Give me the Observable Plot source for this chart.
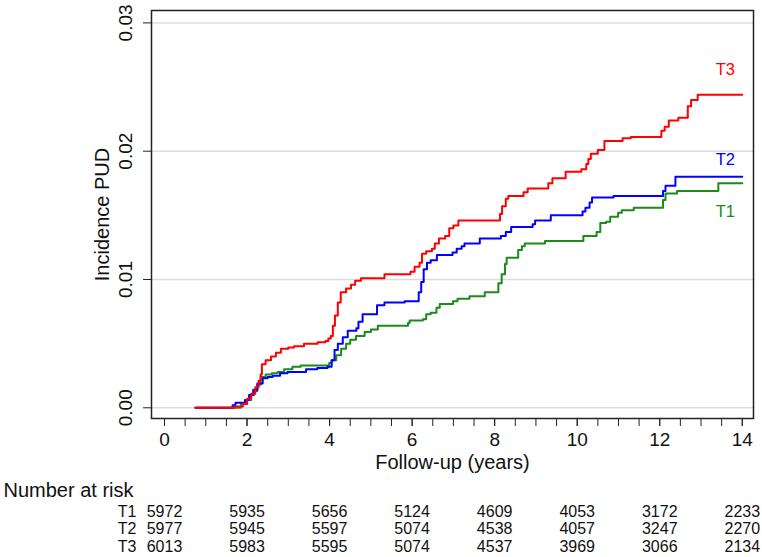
<!DOCTYPE html>
<html>
<head>
<meta charset="utf-8">
<script src="https://cdn.jsdelivr.net/npm/d3@7"></script>
<script src="https://cdn.jsdelivr.net/npm/@observablehq/plot@0.6"></script>
<style>
  html, body { margin: 0; padding: 0; background: #fff; }
</style>
</head>
<body>
<div id="chart"></div>
<script>
// ---- Data ----
const groups = ["T1", "T2", "T3"];
const groupColors = ["#1a8c1a", "#0000ff", "#ff0000"];

const t1Time = [0.75,1.85,2.00,2.10,2.17,2.25,2.33,2.45,2.60,2.74,2.90,3.10,3.30,3.99,4.05,4.16,4.28,4.40,4.50,4.64,4.85,5.00,5.17,5.90,5.94,6.26,6.34,6.45,6.59,6.67,6.99,7.10,7.39,7.76,8.09,8.17,8.25,8.29,8.57,8.66,8.73,9.22,10.15,10.47,10.56,10.70,10.80,10.99,11.08,11.37,12.08,12.14,12.42,13.42,14.00];
const t1Inc  = [0,0.0003,0.0006,0.0010,0.0013,0.0018,0.0024,0.0026,0.0027,0.0028,0.0030,0.0032,0.0033,0.0035,0.0037,0.0041,0.0046,0.0050,0.0053,0.0056,0.0059,0.0061,0.0064,0.0066,0.0068,0.0069,0.0073,0.0074,0.0078,0.0081,0.0083,0.0085,0.0087,0.0090,0.0097,0.0104,0.0112,0.0117,0.0123,0.0126,0.0128,0.0130,0.0134,0.0137,0.0144,0.0145,0.0149,0.0152,0.0154,0.0156,0.0162,0.0167,0.0169,0.0175,0.0175];

const t2Time = [0.75,1.65,1.72,1.95,2.05,2.15,2.25,2.38,2.50,2.62,2.80,2.98,3.43,3.70,3.95,4.05,4.12,4.20,4.32,4.44,4.65,4.70,4.80,5.15,5.33,5.82,6.16,6.22,6.28,6.36,6.45,6.60,6.98,7.08,7.20,7.27,7.64,8.15,8.27,8.40,8.92,8.98,9.36,10.13,10.20,10.30,10.36,10.88,12.08,12.14,12.38,14.00];
const t2Inc  = [0,0.0002,0.0004,0.0006,0.0010,0.0014,0.0019,0.0023,0.0024,0.0025,0.0027,0.0028,0.0030,0.0031,0.0032,0.0037,0.0045,0.0050,0.0055,0.0060,0.0062,0.0067,0.0073,0.0080,0.0082,0.0083,0.0090,0.0098,0.0108,0.0113,0.0115,0.0119,0.0121,0.0124,0.0126,0.0128,0.0132,0.0134,0.0137,0.0141,0.0143,0.0146,0.0150,0.0153,0.0156,0.0160,0.0164,0.0165,0.0169,0.0173,0.0180,0.0180];

const t3Time = [0.75,1.70,1.90,2.00,2.10,2.20,2.28,2.33,2.36,2.45,2.58,2.70,2.82,3.00,3.14,3.38,3.71,3.90,3.97,4.03,4.08,4.13,4.20,4.27,4.40,4.52,4.62,4.76,5.33,5.96,6.06,6.18,6.24,6.34,6.48,6.55,6.65,6.80,6.90,7.00,7.12,8.13,8.18,8.27,8.33,8.70,8.80,9.30,9.40,9.72,10.10,10.22,10.27,10.33,10.50,10.66,11.10,11.30,12.04,12.12,12.22,12.45,12.68,12.76,12.92,14.00];
const t3Inc  = [0,0.0001,0.0003,0.0007,0.0011,0.0016,0.0021,0.0026,0.0034,0.0037,0.0040,0.0043,0.0046,0.0047,0.0048,0.0050,0.0051,0.0052,0.0054,0.0056,0.0064,0.0072,0.0082,0.0090,0.0093,0.0096,0.0099,0.0101,0.0104,0.0106,0.0110,0.0113,0.0120,0.0122,0.0124,0.0128,0.0132,0.0134,0.0140,0.0142,0.0146,0.0151,0.0157,0.0163,0.0165,0.0168,0.0171,0.0175,0.0179,0.0184,0.0186,0.0190,0.0194,0.0198,0.0201,0.0208,0.0210,0.0211,0.0216,0.0219,0.0224,0.0226,0.0235,0.0240,0.0244,0.0244];

const riskTimes = [0, 2, 4, 6, 8, 10, 12, 14];
const riskT1 = [5972, 5935, 5656, 5124, 4609, 4053, 3172, 2233];
const riskT2 = [5977, 5945, 5597, 5074, 4538, 4057, 3247, 2270];
const riskT3 = [6013, 5983, 5595, 5074, 4537, 3969, 3066, 2134];

const xTickLabels = [0, 2, 4, 6, 8, 10, 12, 14];
const xMinorTicks = d3.range(0, 14.01, 0.5);
const yTickValues = [0, 0.01, 0.02, 0.03];

const xTitle = "Follow-up (years)";
const yTitle = "Incidence PUD";
const riskTitle = "Number at risk";

// ---- Build tables ----
const times = [t1Time, t2Time, t3Time];
const incs = [t1Inc, t2Inc, t3Inc];
const risks = [riskT1, riskT2, riskT3];
const series = groups.map((g, k) => times[k].map((t, i) => ({group: g, time: t, inc: incs[k][i]})));

// label offsets relative to each curve's end point (styling)
const labelDx = [-17, -17, -17];
const labelDy = [28, -17, -25];

const font = "'Liberation Sans', Arial, Helvetica, sans-serif";
const ink = "#111";
const rowDy = k => 87 + 17.5 * k;

const marks = [
  Plot.ruleY(yTickValues, {stroke: "#dcdcdc", strokeWidth: 1.5}),
  ...series.map((data, k) => Plot.line(data, {
    x: "time", y: "inc", curve: "step-after",
    stroke: groupColors[k], strokeWidth: 2
  })),
  ...series.map((data, k) => Plot.text([data[data.length - 1]], {
    x: "time", y: "inc", text: "group",
    fill: groupColors[k], fontSize: 16.5,
    dx: labelDx[k], dy: labelDy[k], textAnchor: "middle", lineAnchor: "middle"
  })),
  Plot.frame({stroke: "#222", strokeWidth: 1.5}),
  Plot.axisX({ticks: xMinorTicks, tickSize: 8, tickFormat: () => "", label: null, stroke: "#222"}),
  Plot.axisX({ticks: xTickLabels, tickSize: 8, tickPadding: 6, tickFormat: d => String(d),
              fontSize: 19, label: null, stroke: "#222", fill: ink}),
  Plot.axisY({ticks: yTickValues, tickSize: 8, tickFormat: () => "", label: null, stroke: "#222"}),
  Plot.text(yTickValues, {
    y: d => d, text: d => d3.format(".2f")(d),
    frameAnchor: "left", dx: -25.5, rotate: -90,
    textAnchor: "middle", lineAnchor: "middle", fontSize: 19, fill: ink
  }),
  Plot.text([yTitle], {
    text: d => d, frameAnchor: "left", dx: -48.5, rotate: -90,
    textAnchor: "middle", lineAnchor: "middle", fontSize: 20, fill: ink
  }),
  Plot.text([xTitle], {
    text: d => d, frameAnchor: "bottom", dy: 36,
    textAnchor: "middle", lineAnchor: "top", fontSize: 20, fill: ink
  }),
  Plot.text([riskTitle], {
    text: d => d, frameAnchor: "bottom-left", dx: -148, dy: 64,
    textAnchor: "start", lineAnchor: "top", fontSize: 20, fill: ink
  }),
  ...groups.map((g, k) => Plot.text([g], {
    text: d => d, frameAnchor: "bottom-left", dx: -33.7, dy: rowDy(k),
    textAnchor: "start", lineAnchor: "top", fontSize: 16, fill: ink
  })),
  ...risks.map((r, k) => Plot.text(riskTimes, {
    x: d => d, text: (d, i) => String(r[i]), frameAnchor: "bottom", dy: rowDy(k),
    textAnchor: "middle", lineAnchor: "top", fontSize: 16, fill: ink
  }))
];

const chart = Plot.plot({
  width: 762,
  height: 557,
  marginLeft: 151,
  marginRight: 9,
  marginTop: 10,
  marginBottom: 139,
  style: {fontFamily: font, background: "#fff", color: ink, overflow: "visible"},
  x: {domain: [-0.315, 14.272], axis: null},
  y: {domain: [-0.000834, 0.030966], axis: null},
  marks
});
document.getElementById("chart").appendChild(chart);
</script>
</body>
</html>
